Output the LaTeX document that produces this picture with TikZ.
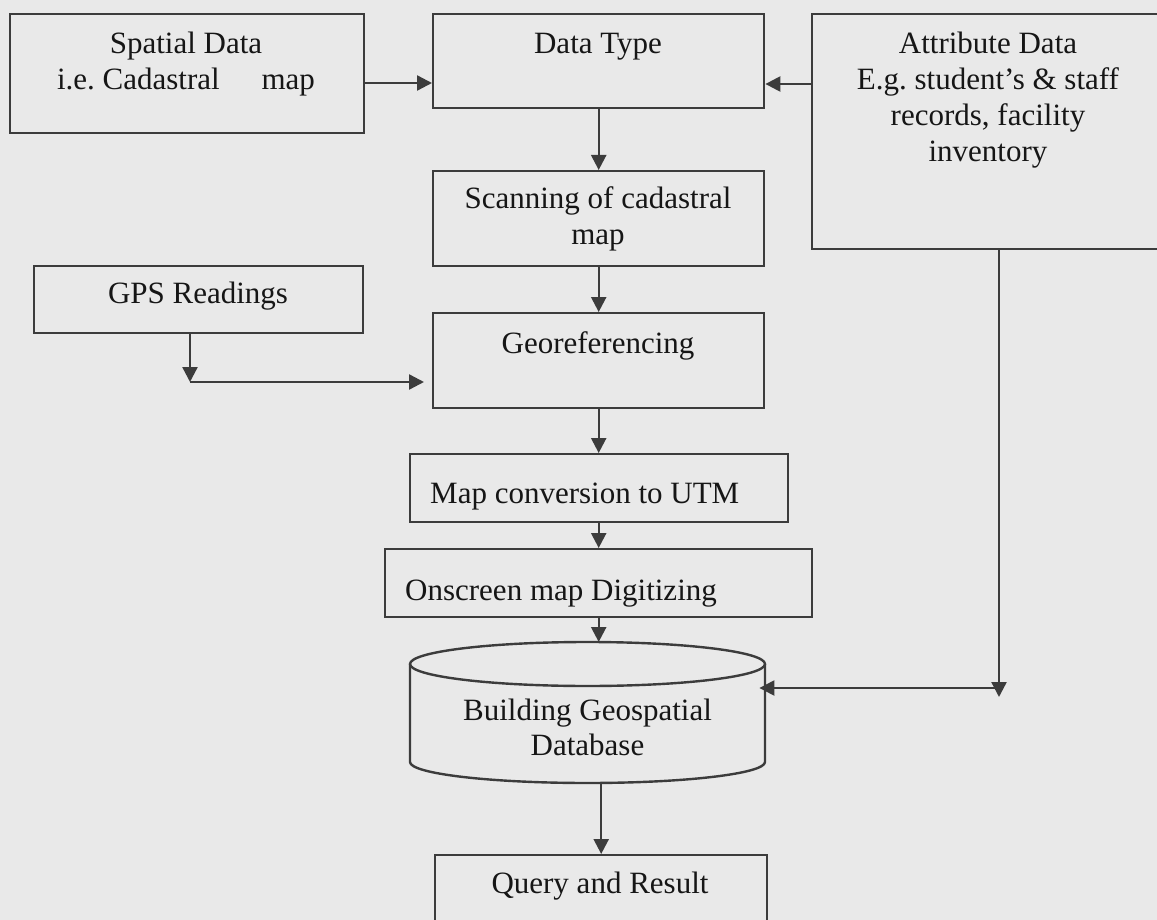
\documentclass[tikz,border=0pt]{standalone}
\usepackage{fontspec}
\setmainfont{Liberation Serif}
\usetikzlibrary{arrows.meta}
\definecolor{bgc}{RGB}{233,233,233}
\definecolor{linec}{RGB}{60,60,60}
\definecolor{textc}{RGB}{22,22,22}
\newcommand{\fl}{\rule{0pt}{25pt}}
\frenchspacing
\tikzset{
  boxnode/.style={draw=linec, line width=2.4pt, rectangle, inner sep=0pt, anchor=north west},
  txt/.style={text=textc, inner sep=0pt, align=center, font=\fontsize{31pt}{36pt}\selectfont\frenchspacing},
  conn/.style={draw=linec, line width=2.4pt},
  arr/.style={conn, -{Triangle[length=15pt,width=15pt]}}
}
\begin{document}
\begin{tikzpicture}[x=1pt,y=-1pt]
\useasboundingbox (0,0) rectangle (1157,920);
\fill[bgc] (0,0) rectangle (1157,920);
\clip (0,0) rectangle (1157,920);

% boxes
\node[boxnode, minimum width=354pt, minimum height=119pt] (sp) at (9,13) {};
\node[boxnode, minimum width=331pt, minimum height=94pt] (dt) at (432,13) {};
\node[boxnode, minimum width=354pt, minimum height=235pt] (at) at (811,13) {};
\node[boxnode, minimum width=331pt, minimum height=95pt] (sc) at (432,170) {};
\node[boxnode, minimum width=329pt, minimum height=67pt] (gps) at (33,265) {};
\node[boxnode, minimum width=331pt, minimum height=95pt] (geo) at (432,312) {};
\node[boxnode, minimum width=378pt, minimum height=68pt] (mc) at (409,453) {};
\node[boxnode, minimum width=427pt, minimum height=68pt] (os) at (384,548) {};
\node[inner sep=0pt, minimum width=355pt, minimum height=141pt, anchor=north west] (db) at (410,642) {};
\node[boxnode, minimum width=332pt, minimum height=94pt] (q) at (434,854) {};

% cylinder
\draw[conn] (587.5,664) ellipse [x radius=177.5pt, y radius=22pt];
\draw[conn] (410,664) -- (410,762) arc[start angle=180, end angle=360, x radius=177.5pt, y radius=21pt] -- (765,664);

% texts
\node[txt, anchor=north] (tsp) at (186,28) {\fl Spatial Data\\i.e. Cadastral\hspace{34pt} map};
\node[txt, anchor=north] (tdt) at (598,28) {\fl Data Type};
\node[txt, anchor=north] (tat) at (988,28) {\fl Attribute Data\\E.g. student’s \& staff\\records, facility\\inventory};
\node[txt, anchor=north] (tsc) at (598,183) {\fl Scanning of cadastral\\map};
\node[txt, anchor=north] (tgps) at (198,278) {\fl GPS Readings};
\node[txt, anchor=north] (tgeo) at (598,328) {\fl Georeferencing};
\node[txt, anchor=north west] (tmc) at (430,478) {\fl Map conversion to UTM};
\node[txt, anchor=north west] (tos) at (405,575) {\fl Onscreen map Digitizing};
\node[txt, anchor=north, font=\fontsize{31pt}{35pt}\selectfont] (tdb) at (587.5,695) {\fl Building Geospatial\\Database};
\node[txt, anchor=north] (tq) at (600,868) {\fl Query and Result};

% helper coordinates
\coordinate (r1) at (0,83);
\coordinate (r2) at (0,84);
\coordinate (gturn) at (190,382);
\coordinate (aturn) at (999,697);
\coordinate (ajoin) at (999,688);

% connectors
\draw[arr] (sp.east |- r1) -- (dt.west |- r1);
\draw[arr] (at.west |- r2) -- (dt.east |- r2);
\draw[arr] (dt.south) -- (sc.north);
\draw[arr] (sc.south) -- (geo.north);
\draw[arr] (gps.south -| gturn) -- (gturn);
\draw[arr, shorten >=8pt] (gturn) -- (geo.west |- gturn);
\draw[arr] (geo.south) -- (mc.north -| geo.south);
\draw[arr] (mc.south -| geo.south) -- (os.north -| geo.south);
\draw[arr] (os.south -| geo.south) -- (db.north -| geo.south);
\draw[arr] (db.south -| q.north) -- (q.north);
\draw[arr] (at.south -| aturn) -- (aturn);
\draw[arr, shorten >=-6pt] (ajoin) -- (db.east |- ajoin);
\end{tikzpicture}
\end{document}
